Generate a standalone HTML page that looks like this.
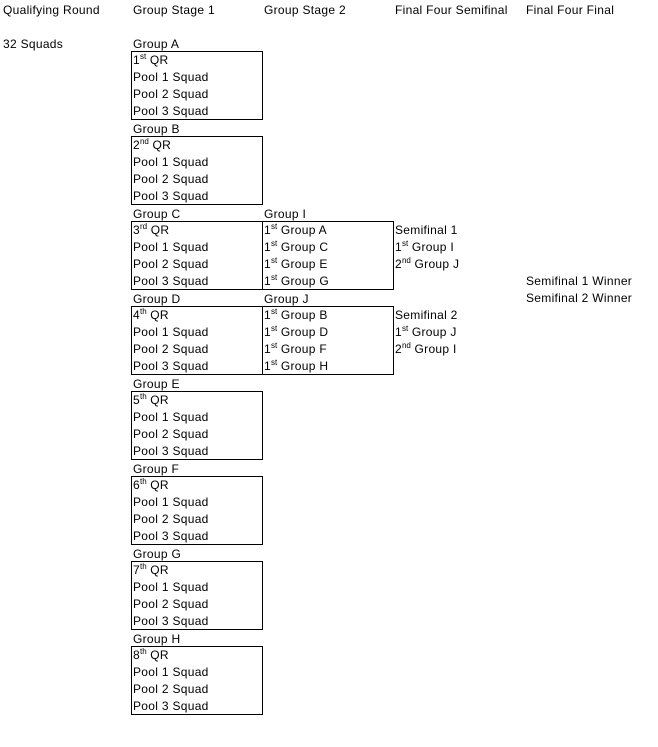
<!DOCTYPE html>
<html><head><meta charset="utf-8"><style>
body{margin:0;width:658px;height:747px;background:#fff;position:relative;font-family:"Liberation Sans",Arial,sans-serif;font-size:12px;color:#000;overflow:hidden}
.t{position:absolute;height:17px;line-height:17px;white-space:nowrap;margin-top:1px;letter-spacing:0.3px}
.b{position:absolute;border:1px solid #000;box-sizing:border-box}
sup{font-size:8px;vertical-align:top;line-height:10px;position:relative;top:0px;letter-spacing:0}
</style></head><body>
<div class="t" style="left:3px;top:1px">Qualifying Round</div>
<div class="t" style="left:133px;top:1px">Group Stage 1</div>
<div class="t" style="left:264px;top:1px">Group Stage 2</div>
<div class="t" style="left:395px;top:1px">Final Four Semifinal</div>
<div class="t" style="left:526px;top:1px">Final Four Final</div>
<div class="t" style="left:3px;top:35px">32 Squads</div>

<div class="t" style="left:133px;top:35px">Group A</div>
<div class="b" style="left:131px;top:51px;width:132px;height:69px"></div>
<div class="t" style="left:133px;top:51px">1<sup>st</sup> QR</div>
<div class="t" style="left:133px;top:68px">Pool 1 Squad</div>
<div class="t" style="left:133px;top:85px">Pool 2 Squad</div>
<div class="t" style="left:133px;top:102px">Pool 3 Squad</div>

<div class="t" style="left:133px;top:120px">Group B</div>
<div class="b" style="left:131px;top:136px;width:132px;height:69px"></div>
<div class="t" style="left:133px;top:136px">2<sup>nd</sup> QR</div>
<div class="t" style="left:133px;top:153px">Pool 1 Squad</div>
<div class="t" style="left:133px;top:170px">Pool 2 Squad</div>
<div class="t" style="left:133px;top:187px">Pool 3 Squad</div>

<div class="t" style="left:133px;top:205px">Group C</div>
<div class="b" style="left:131px;top:221px;width:132px;height:69px"></div>
<div class="t" style="left:133px;top:221px">3<sup>rd</sup> QR</div>
<div class="t" style="left:133px;top:238px">Pool 1 Squad</div>
<div class="t" style="left:133px;top:255px">Pool 2 Squad</div>
<div class="t" style="left:133px;top:272px">Pool 3 Squad</div>

<div class="t" style="left:133px;top:290px">Group D</div>
<div class="b" style="left:131px;top:306px;width:132px;height:69px"></div>
<div class="t" style="left:133px;top:306px">4<sup>th</sup> QR</div>
<div class="t" style="left:133px;top:323px">Pool 1 Squad</div>
<div class="t" style="left:133px;top:340px">Pool 2 Squad</div>
<div class="t" style="left:133px;top:357px">Pool 3 Squad</div>

<div class="t" style="left:133px;top:375px">Group E</div>
<div class="b" style="left:131px;top:391px;width:132px;height:69px"></div>
<div class="t" style="left:133px;top:391px">5<sup>th</sup> QR</div>
<div class="t" style="left:133px;top:408px">Pool 1 Squad</div>
<div class="t" style="left:133px;top:425px">Pool 2 Squad</div>
<div class="t" style="left:133px;top:442px">Pool 3 Squad</div>

<div class="t" style="left:133px;top:460px">Group F</div>
<div class="b" style="left:131px;top:476px;width:132px;height:69px"></div>
<div class="t" style="left:133px;top:476px">6<sup>th</sup> QR</div>
<div class="t" style="left:133px;top:493px">Pool 1 Squad</div>
<div class="t" style="left:133px;top:510px">Pool 2 Squad</div>
<div class="t" style="left:133px;top:527px">Pool 3 Squad</div>

<div class="t" style="left:133px;top:545px">Group G</div>
<div class="b" style="left:131px;top:561px;width:132px;height:69px"></div>
<div class="t" style="left:133px;top:561px">7<sup>th</sup> QR</div>
<div class="t" style="left:133px;top:578px">Pool 1 Squad</div>
<div class="t" style="left:133px;top:595px">Pool 2 Squad</div>
<div class="t" style="left:133px;top:612px">Pool 3 Squad</div>

<div class="t" style="left:133px;top:630px">Group H</div>
<div class="b" style="left:131px;top:646px;width:132px;height:69px"></div>
<div class="t" style="left:133px;top:646px">8<sup>th</sup> QR</div>
<div class="t" style="left:133px;top:663px">Pool 1 Squad</div>
<div class="t" style="left:133px;top:680px">Pool 2 Squad</div>
<div class="t" style="left:133px;top:697px">Pool 3 Squad</div>

<div class="t" style="left:264px;top:205px">Group I</div>
<div class="b" style="left:262px;top:221px;width:132px;height:69px"></div>
<div class="t" style="left:264px;top:221px">1<sup>st</sup> Group A</div>
<div class="t" style="left:264px;top:238px">1<sup>st</sup> Group C</div>
<div class="t" style="left:264px;top:255px">1<sup>st</sup> Group E</div>
<div class="t" style="left:264px;top:272px">1<sup>st</sup> Group G</div>

<div class="t" style="left:264px;top:290px">Group J</div>
<div class="b" style="left:262px;top:306px;width:132px;height:69px"></div>
<div class="t" style="left:264px;top:306px">1<sup>st</sup> Group B</div>
<div class="t" style="left:264px;top:323px">1<sup>st</sup> Group D</div>
<div class="t" style="left:264px;top:340px">1<sup>st</sup> Group F</div>
<div class="t" style="left:264px;top:357px">1<sup>st</sup> Group H</div>

<div class="t" style="left:395px;top:221px">Semifinal 1</div>
<div class="t" style="left:395px;top:238px">1<sup>st</sup> Group I</div>
<div class="t" style="left:395px;top:255px">2<sup>nd</sup> Group J</div>
<div class="t" style="left:395px;top:306px">Semifinal 2</div>
<div class="t" style="left:395px;top:323px">1<sup>st</sup> Group J</div>
<div class="t" style="left:395px;top:340px">2<sup>nd</sup> Group I</div>

<div class="t" style="left:526px;top:272px">Semifinal 1 Winner</div>
<div class="t" style="left:526px;top:289px">Semifinal 2 Winner</div>
</body></html>
